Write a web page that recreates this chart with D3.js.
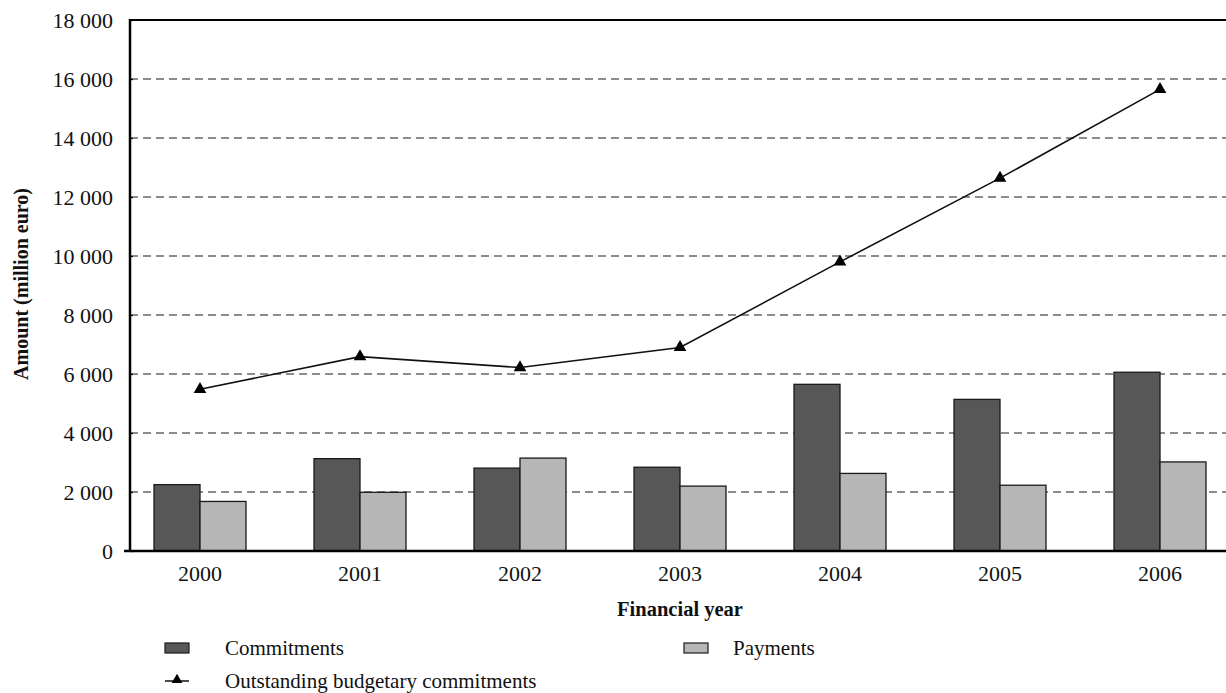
<!DOCTYPE html>
<html><head><meta charset="utf-8">
<script src="https://cdn.jsdelivr.net/npm/d3@7"></script>
<style>body{margin:0;background:#fff}svg{display:block}text{font-family:"Liberation Serif","DejaVu Serif",serif;fill:#111}</style>
</head><body>
<script>
const years = ["2000","2001","2002","2003","2004","2005","2006"];
const commitments = [2250, 3130, 2810, 2840, 5650, 5140, 6060];
const payments = [1680, 1990, 3150, 2200, 2630, 2230, 3020];
const outstanding = [5480, 6590, 6220, 6900, 9800, 12640, 15650];
const yTicks = [0,2000,4000,6000,8000,10000,12000,14000,16000,18000];
const seriesNames = ["Commitments","Payments"];
const seriesColors = ["#575757","#b6b6b6"];

(function(){
const W=1226,H=693;
const svg=d3.select("body").append("svg").attr("width",W).attr("height",H);
const pL=130,pR=1226,pT=20,pB=551;

const y=d3.scaleLinear().domain([0,18000]).range([pB,pT]);
const x=d3.scaleBand().domain(years).range([120,1240]).paddingInner(0.425).paddingOuter(0.2125);
const xs=d3.scaleBand().domain(seriesNames).range([0,x.bandwidth()]);
const fmt=v=>d3.format(",")(v).replace(/,/g," ");

// gridlines
svg.append("g").selectAll("line").data(yTicks.filter(t=>t>0&&t<18000)).join("line")
  .attr("x1",pL).attr("x2",pR).attr("y1",d=>y(d)).attr("y2",d=>y(d))
  .attr("stroke","#1a1a1a").attr("stroke-width",1.2).attr("stroke-dasharray","8,5");

// bars
const data=years.map((yr,i)=>({yr,vals:[commitments[i],payments[i]]}));
svg.append("g").selectAll("g").data(data).join("g")
  .attr("transform",d=>`translate(${x(d.yr)},0)`)
  .selectAll("rect").data(d=>d.vals.map((v,j)=>({v,j}))).join("rect")
  .attr("x",d=>xs(seriesNames[d.j])).attr("width",xs.bandwidth())
  .attr("y",d=>y(d.v)).attr("height",d=>pB-y(d.v))
  .attr("fill",d=>seriesColors[d.j]).attr("stroke","#1a1a1a").attr("stroke-width",1.3);

// line
const cx=d=>x(d)+x.bandwidth()/2;
svg.append("path").datum(outstanding)
  .attr("d",d3.line().x((d,i)=>cx(years[i])).y(d=>y(d)))
  .attr("fill","none").attr("stroke","#111").attr("stroke-width",1.6);
svg.append("g").selectAll("path").data(outstanding).join("path")
  .attr("transform",(d,i)=>`translate(${cx(years[i])},${y(d)})`)
  .attr("d",d3.symbol(d3.symbolTriangle,70)).attr("fill","#000");

// y axis
const ya=svg.append("g").attr("transform",`translate(${pL},0)`)
  .call(d3.axisLeft(y).tickValues(yTicks).tickFormat(fmt).tickSize(7).tickPadding(10));
ya.select(".domain").remove();
ya.selectAll(".tick line").attr("x2",3).attr("stroke","#111").attr("stroke-width",1.3);
ya.selectAll("text").style("font-size","22px").attr("fill","#111");
svg.append("line").attr("x1",pL).attr("x2",pL).attr("y1",pT-1).attr("y2",pB+1).attr("stroke","#000").attr("stroke-width",2.5);
svg.append("line").attr("x1",pL).attr("x2",pR).attr("y1",pT).attr("y2",pT).attr("stroke","#000").attr("stroke-width",2.2);

// x axis
const xa=svg.append("g").attr("transform",`translate(0,${pB})`)
  .call(d3.axisBottom(x).tickSize(0).tickPadding(14));
xa.select(".domain").remove();
xa.selectAll("text").style("font-size","22px").attr("fill","#111");
svg.append("line").attr("x1",pL-6).attr("x2",pR).attr("y1",pB).attr("y2",pB).attr("stroke","#000").attr("stroke-width",2.5);

// axis titles
svg.append("text").attr("x",680).attr("y",616).attr("text-anchor","middle")
  .style("font-size","20.5px").style("font-weight","bold").text("Financial year");
svg.append("text").attr("transform","translate(28,284) rotate(-90)").attr("text-anchor","middle")
  .style("font-size","20px").style("font-weight","bold").text("Amount (million euro)");

// legend
const lg=svg.append("g");
[[0,165,225,648],[1,684,733,648]].forEach(([j,lx,tx,ly])=>{
  lg.append("rect").attr("x",lx).attr("y",ly-5).attr("width",24).attr("height",10)
    .attr("fill",seriesColors[j]).attr("stroke","#1a1a1a").attr("stroke-width",1.2);
  lg.append("text").attr("x",tx).attr("y",ly+7).style("font-size","21px").text(seriesNames[j]);
});
lg.append("line").attr("x1",165).attr("x2",189).attr("y1",681).attr("y2",681).attr("stroke","#111").attr("stroke-width",1.5);
lg.append("path").attr("transform","translate(177,680)").attr("d",d3.symbol(d3.symbolTriangle,50)).attr("fill","#000");
lg.append("text").attr("x",225).attr("y",688).style("font-size","21px").text("Outstanding budgetary commitments");
})();
</script>
</body></html>
